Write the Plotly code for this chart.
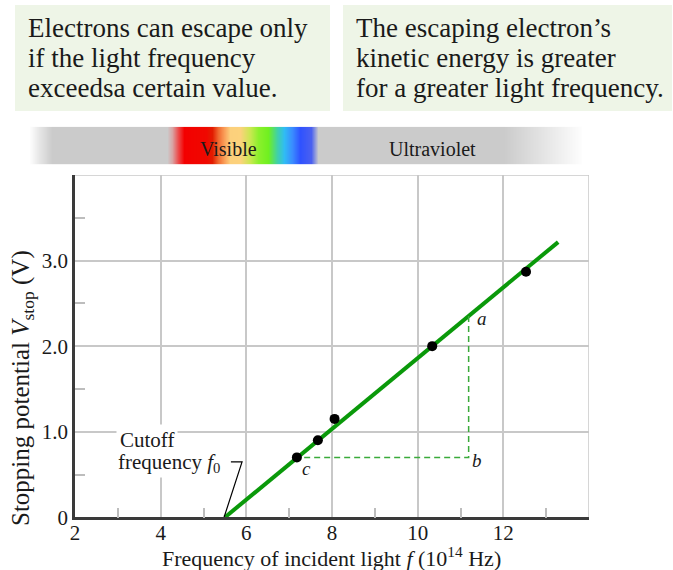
import plotly.graph_objects as go

W, H = 673, 570

# ---- data ----
freq = [7.18, 7.67, 8.06, 10.34, 12.53]          # 10^14 Hz
vstop = [0.70, 0.90, 1.15, 2.00, 2.87]           # V
fit_f = [5.5, 13.28]
fit_v = [0.0, 3.216]
tri_f = [7.35, 11.19, 11.19]                     # c -> b -> a
tri_v = [0.70, 0.70, 2.352]
leader_f = [5.64, 5.90, 5.48]
leader_v = [0.647, 0.647, 0.0]
x_ticks = [2, 4, 6, 8, 10, 12]
x_ticktext = ["2", "4", "6", "8", "10", "12"]
y_ticks = [0, 1, 2, 3]
y_ticktext = ["0", "1.0", "2.0", "3.0"]
x_minor = [3, 5, 7, 9, 11, 13]
y_minor = [0.5, 1.5, 2.5, 3.5]

box1_lines = ["Electrons can escape only", "if the light frequency", "exceedsa certain value."]
box2_lines = ["The escaping electron’s", "kinetic energy is greater", "for a greater light frequency."]

spectrum_pos = [31, 40, 52, 167, 172, 178, 184, 206, 212, 218, 224, 230, 240, 250, 258, 268, 277, 284, 292, 300, 311, 318, 504, 530, 555, 581]
spectrum_col = ["#fafafa", "#e4e4e4", "#cbcbcb", "#cbcbcb", "#d9a4a4", "#ec4a4a", "#f30000", "#f00800",
                "#e21c00", "#f06a30", "#fa9e58", "#fcd07c", "#fcd27c", "#c8e850", "#8cf02c", "#70f020",
                "#40d0a8", "#30bcf4", "#3a8cff", "#2f52ff", "#4a60f0", "#cbcbcb", "#cbcbcb", "#dcdcdc",
                "#ececec", "#fdfdfd"]

FONT = "Liberation Serif"
TXT = "#1a1a1a"

def px(x):
    return x / W

def py(y):
    return 1 - y / H

fig = go.Figure()

# spectrum bar as heatmap on its own axes
xs = list(range(spectrum_pos[0], spectrum_pos[-1] + 1))
span = spectrum_pos[-1] - spectrum_pos[0]
cscale = [[(p - spectrum_pos[0]) / span, c] for p, c in zip(spectrum_pos, spectrum_col)]
fig.add_trace(go.Heatmap(x=xs, y=[0], z=[xs], colorscale=cscale, zmin=spectrum_pos[0], zmax=spectrum_pos[-1],
                         showscale=False, hoverinfo="skip", xaxis="x2", yaxis="y2"))

# fit line
fig.add_trace(go.Scatter(x=fit_f, y=fit_v, mode="lines", line=dict(color="#0a990a", width=4),
                         hoverinfo="skip", showlegend=False))
# dashed triangle
fig.add_trace(go.Scatter(x=tri_f, y=tri_v, mode="lines", line=dict(color="#3aaa3a", width=1.5, dash="6px,4px"),
                         hoverinfo="skip", showlegend=False))
# leader line
fig.add_trace(go.Scatter(x=leader_f, y=leader_v, mode="lines", line=dict(color="black", width=1.2),
                         hoverinfo="skip", showlegend=False))
# data points
fig.add_trace(go.Scatter(x=freq, y=vstop, mode="markers", marker=dict(color="black", size=10),
                         showlegend=False))

xdom = [px(75), px(589)]
ydom = [py(517.3), py(175)]

fig.update_layout(
    width=W, height=H, margin=dict(l=0, r=0, t=0, b=0, autoexpand=False),
    paper_bgcolor="white", plot_bgcolor="white", showlegend=False,
    font=dict(family=FONT, color=TXT),
    xaxis=dict(domain=xdom, range=[2, 14], tickvals=x_ticks, ticktext=x_ticktext, showgrid=True,
               gridcolor="#c8c8c8", gridwidth=1.5, zeroline=False, showline=True, linecolor="#3a3a3a",
               linewidth=2.5, ticks="", tickfont=dict(size=21, family=FONT, color=TXT), automargin=False,
               ticklabelstandoff=-5,
               minor=dict(tickvals=x_minor, ticks="inside", ticklen=10, tickcolor="#bdbdbd", tickwidth=1.5),
               fixedrange=True, anchor="y"),
    yaxis=dict(domain=ydom, range=[0, 4], tickvals=y_ticks, ticktext=y_ticktext, showgrid=True,
               gridcolor="#c8c8c8", gridwidth=1.5, zeroline=False, showline=True, linecolor="#3a3a3a",
               linewidth=2.5, ticks="", tickfont=dict(size=21, family=FONT, color=TXT), automargin=False,
               minor=dict(tickvals=y_minor, ticks="inside", ticklen=10, tickcolor="#bdbdbd", tickwidth=1.5),
               fixedrange=True, anchor="x"),
    xaxis2=dict(domain=[0, 1], range=[0, W], visible=False, fixedrange=True, anchor="y2", automargin=False),
    yaxis2=dict(domain=[py(164.3), py(126.7)], range=[-0.5, 0.5], visible=False, fixedrange=True,
                anchor="x2", automargin=False),
)

# top/right light borders
fig.add_shape(type="line", xref="x", yref="y", x0=2, x1=14, y0=4, y1=4, line=dict(color="#c8c8c8", width=1.5))
fig.add_shape(type="line", xref="x", yref="y", x0=14, x1=14, y0=0, y1=4, line=dict(color="#c8c8c8", width=1.5))

# top text boxes
fig.add_shape(type="rect", xref="paper", yref="paper", x0=px(15), x1=px(330), y0=py(111), y1=py(5),
              fillcolor="#eef5e7", line=dict(width=0), layer="below")
fig.add_shape(type="rect", xref="paper", yref="paper", x0=px(343), x1=px(672), y0=py(111), y1=py(5),
              fillcolor="#eef5e7", line=dict(width=0), layer="below")


def label(x, y, text, size, xa="center", ya="middle", **kw):
    fig.add_annotation(x=px(x), y=py(y), xref="paper", yref="paper", text=text, showarrow=False,
                       xanchor=xa, yanchor=ya, font=dict(size=size, family=FONT, color=TXT), **kw)


for i, (l1, l2) in enumerate(zip(box1_lines, box2_lines)):
    yy = 28 + 30 * i
    label(26, yy, l1, 27, xa="left")
    label(354, yy, l2, 27, xa="left")

# spectrum labels
label(228, 149, "Visible", 20)
label(432, 149, "Ultraviolet", 20)

# axis titles
label(331, 557, "Frequency of incident light <i>f</i> (10<sup>14</sup> Hz)", 22)
label(22, 388, "Stopping potential <i>V</i><sub>stop</sub> (V)", 25, textangle=-90)

# cutoff label (two lines on white background)
label(116, 440, "Cutoff", 21, xa="left", bgcolor="white", borderpad=3)
label(116, 463, "frequency <i>f</i><sub>0</sub>", 21, xa="left", bgcolor="white", borderpad=1)

# point labels
for t, xx, yy in [("a", 481.7, 318.3), ("b", 477.3, 460), ("c", 306, 468.3)]:
    label(xx, yy, f"<i>{t}</i>", 19)

fig.write_html("out.html", config={"displayModeBar": False},
               post_script="document.body.style.margin='0px';document.body.style.overflow='hidden';")
